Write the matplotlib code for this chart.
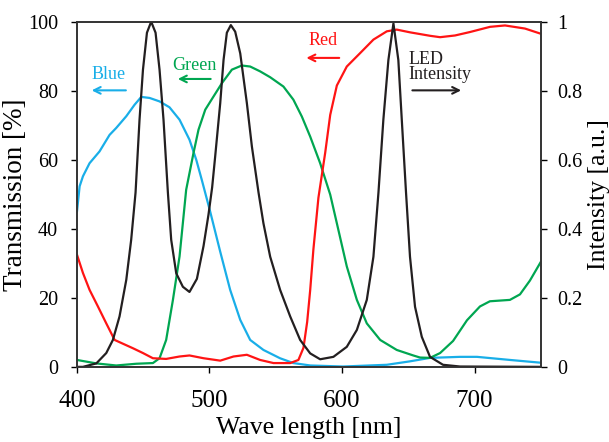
import matplotlib.pyplot as plt

plt.rcParams['font.family'] = ['Liberation Serif', 'DejaVu Serif']

# Transmission [%] of the colour filters
blue_wl = [400, 402, 404.5, 409.5, 417, 424.6, 429.6, 437.2, 443.4, 448.5, 454.8, 462.3,
           469.8, 477.4, 484.9, 490, 494.3, 500.5, 508, 515.6, 523.2, 530.7, 540.7,
           553.2, 563.3, 576.1, 600.8, 633.8, 651.3, 666.4, 689, 701.9, 726.8, 750]
blue_t = [45.0, 52.3, 55.2, 59.0, 62.4, 67.2, 69.2, 72.6, 75.9, 78.2, 77.9, 76.9,
          75.2, 71.6, 65.8, 60.0, 54.0, 45.0, 33.5, 22.3, 13.6, 7.8, 4.9,
          2.5, 1.1, 0.4, 0.1, 0.6, 1.6, 2.6, 2.9, 2.9, 2.0, 1.2]

green_wl = [400, 414.6, 429.6, 444.7, 457.3, 462.3, 467.3, 472.4, 477.4, 482.4, 487.9,
            491.7, 496.8, 503, 509.4, 516.9, 524.4, 530.7, 538.2, 545.8, 555.8, 563.3,
            569.7, 576, 583.5, 591.1, 596.1, 603.6, 611.2, 618.7, 628.8, 641.3, 653.8,
            658.9, 666.4, 674, 683.8, 694.3, 704.1, 711.6, 726.7, 734.3, 741.8, 750]
green_t = [2.0, 1.0, 0.4, 0.9, 1.1, 2.5, 7.8, 19.4, 32.0, 51.3, 61.9,
           68.7, 74.5, 78.3, 82.2, 86.1, 87.3, 87.0, 85.6, 83.9, 81.2, 77.4,
           72.5, 66.7, 59.0, 49.9, 41.6, 29.1, 19.4, 12.6, 7.8, 4.9, 3.3,
           2.7, 2.6, 4.0, 7.5, 13.5, 17.5, 19.0, 19.4, 21.0, 25.0, 30.4]

red_wl = [400, 404.5, 409.5, 415.8, 422.1, 428.4, 434.7, 442.2, 449.8, 457.3, 467.3,
          477.4, 484.9, 495.5, 508.1, 518.1, 528.2, 538.2, 548.3, 560.9, 567.1, 570.9,
          573.7, 576, 578.4, 582.2, 587.3, 591.1, 596.1, 603.6, 613.7, 623.7, 633.8,
          641.3, 651.4, 666.5, 674, 685.3, 696.6, 711.7, 723, 738.1, 750]
red_t = [32.5, 27.2, 22.3, 17.5, 12.6, 7.8, 6.7, 5.4, 4.0, 2.5, 2.3,
         3.0, 3.3, 2.5, 1.8, 3.0, 3.5, 2.0, 1.1, 1.1, 2.0, 5.5,
         13.0, 22.3, 34.0, 49.0, 62.0, 73.0, 81.5, 87.0, 90.9, 94.8, 97.2,
         97.7, 96.9, 95.9, 95.5, 96.0, 97.0, 98.5, 98.9, 98.0, 96.5]

# LED emission intensity [a.u.]
led_wl = [400, 404.5, 414.6, 422.1, 427.1, 432.1, 437.2, 440.9, 444.2, 447.2, 449.8,
          452.8, 456, 459.3, 462.3, 465.3, 468.6, 471.1, 474.9, 479.9, 484.9, 490.5,
          495.5, 499.2, 502, 504.3, 508.1, 510.6, 513.1, 516.1, 519.4, 523.2, 528.2,
          532, 537, 540.7, 545.8, 553.3, 560.9, 568.4, 576, 583.5, 593.5, 603.6, 611.2,
          618.7, 623.7, 627.5, 631.2, 635, 638.8, 642.5, 645.1, 648.3, 651.3, 655.1,
          660.2, 666.4, 676.2, 689, 750]
led_i = [0.0, 0.0, 0.01, 0.04, 0.078, 0.146, 0.252, 0.368, 0.505, 0.716, 0.861,
         0.968, 1.0, 0.968, 0.861, 0.716, 0.505, 0.368, 0.271, 0.232, 0.217, 0.255,
         0.35, 0.44, 0.52, 0.61, 0.764, 0.889, 0.968, 0.99, 0.971, 0.908, 0.764,
         0.638, 0.505, 0.416, 0.319, 0.223, 0.146, 0.078, 0.039, 0.022, 0.029, 0.058, 0.107,
         0.194, 0.319, 0.505, 0.716, 0.889, 0.995, 0.889, 0.716, 0.505, 0.319, 0.174,
         0.087, 0.029, 0.006, 0.001, 0.0]

c_blue = '#19aee8'
c_green = '#00a651'
c_red = '#ff1414'
c_black = '#231f20'

fig = plt.figure(figsize=(6.09, 4.42), dpi=100)
ax = fig.add_axes([0.1264, 0.170, 0.7616, 0.781])
ax.plot(blue_wl, blue_t, color=c_blue, lw=1.6, solid_joinstyle='round')
ax.plot(green_wl, green_t, color=c_green, lw=1.6, solid_joinstyle='round')
ax.plot(red_wl, red_t, color=c_red, lw=1.6, solid_joinstyle='round')
ax.set_xlim(400, 750)
ax.set_ylim(0, 100)
ax.set_xticks([400, 500, 600, 700])
ax.set_yticks([0, 20, 40, 60, 80, 100])
ax.set_xlabel('Wave length [nm]', fontsize=18.5, labelpad=4)
ax.set_ylabel('Transmission [%]', fontsize=19.5, labelpad=0)
ax.tick_params(axis='x', direction='out', labelsize=18, length=4.5, width=1, pad=12)
ax.tick_params(axis='y', direction='out', labelsize=14.5, length=4.5, width=1, pad=9)

ax2 = ax.twinx()
ax2.plot(led_wl, led_i, color=c_black, lw=1.6, solid_joinstyle='round')
ax2.set_ylim(0, 1)
ax2.set_yticks([0, 0.2, 0.4, 0.6, 0.8, 1])
ax2.set_yticklabels(['0', '0.2', '0.4', '0.6', '0.8', '1'])
ax2.set_ylabel('Intensity [a.u.]', fontsize=18.5, labelpad=4)
ax2.tick_params(direction='out', labelsize=14.5, length=4.5, width=1, pad=7)

for a in (ax, ax2):
    for s in a.spines.values():
        s.set_color('#333333')
        s.set_linewidth(1.2)

arrow = dict(arrowstyle='->', lw=1.5, mutation_scale=12)
ax.text(423.5, 84.6, 'Blue', color=c_blue, fontsize=13, ha='center', va='center')
ax.annotate('', xy=(409, 80.1), xytext=(439, 80.1), arrowprops=dict(arrow, color=c_blue))
ax.text(488.6, 87.2, 'Green', color=c_green, fontsize=13, ha='center', va='center')
ax.annotate('', xy=(474, 83.4), xytext=(503, 83.4), arrowprops=dict(arrow, color=c_green))
ax.text(585.5, 94.4, 'Red', color=c_red, fontsize=13, ha='center', va='center')
ax.annotate('', xy=(571, 89.5), xytext=(600, 89.5), arrowprops=dict(arrow, color=c_red))
ax.text(650, 87.0, 'LED\nIntensity', color=c_black, fontsize=13, ha='left', va='center',
        linespacing=0.85)
ax.annotate('', xy=(692, 80.1), xytext=(651, 80.1), arrowprops=dict(arrow, color=c_black))

fig.savefig('out.png', dpi=100)
